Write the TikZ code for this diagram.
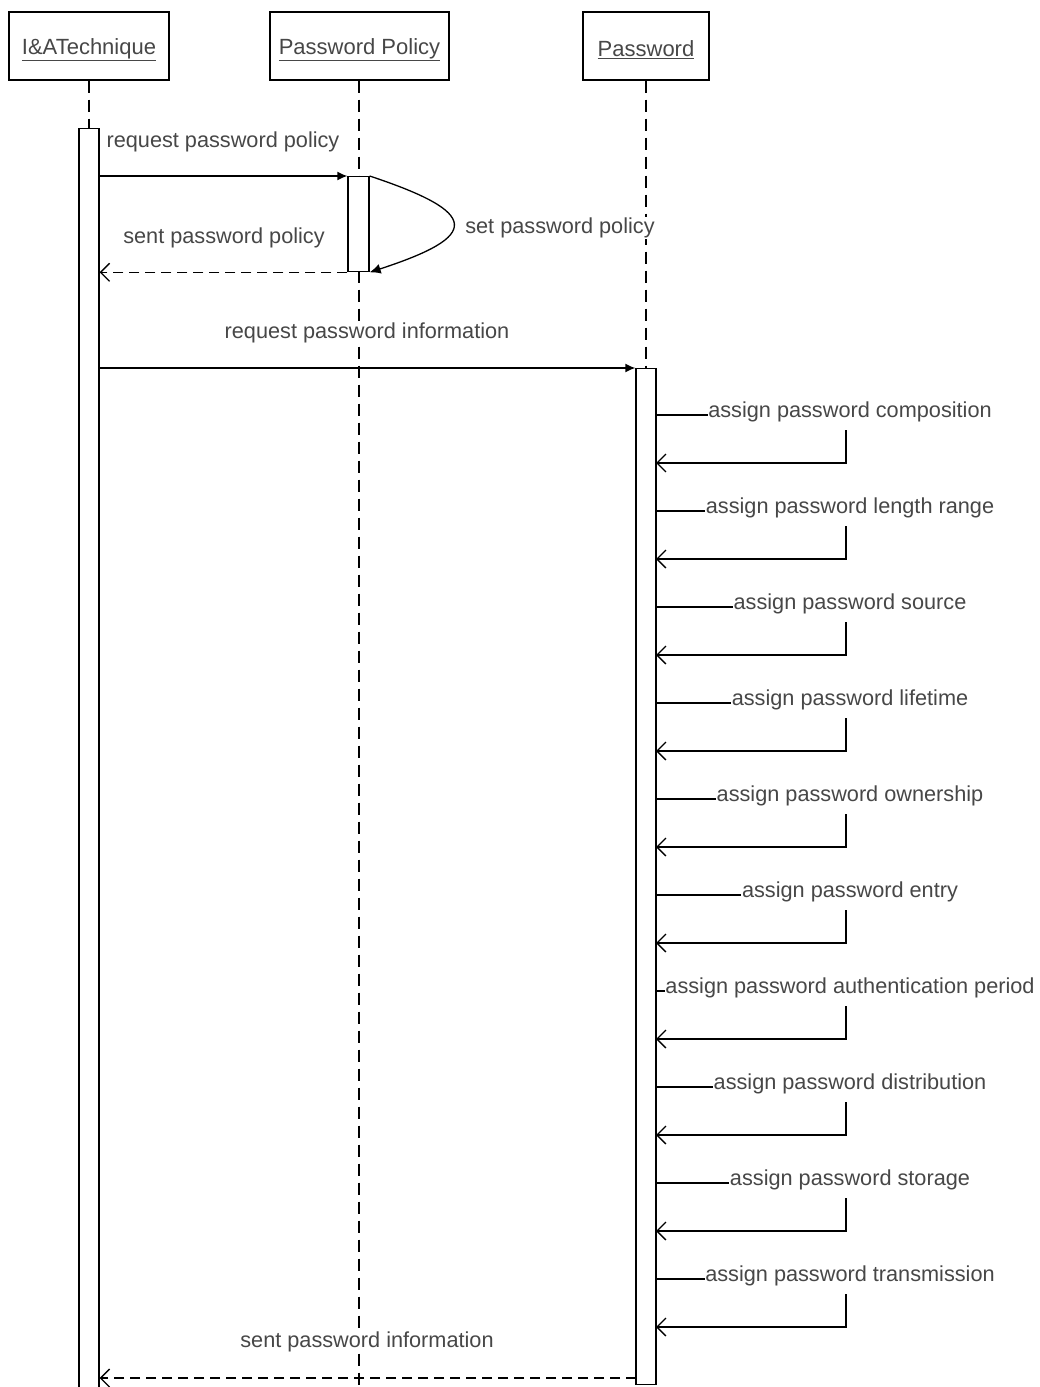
\documentclass[tikz,border=0pt]{standalone}
\usepackage{fontspec}
\setmainfont{Liberation Sans}
\usetikzlibrary{arrows.meta}
\begin{document}
\begin{tikzpicture}[x=1pt,y=-1pt,
  lbl/.style={font=\fontsize{21.7}{24}\selectfont, text=black!72, fill=white, inner sep=0.5pt},
  head/.style={draw, line width=1.3pt, minimum height=68pt, inner sep=0pt},
  headtext/.style={font=\fontsize{22}{24}\selectfont, text=black!72, inner sep=0pt},
  life/.style={line width=1.2pt, dash pattern=on 12pt off 7pt},
  act/.style={draw, fill=white, line width=1.3pt, minimum width=20pt, inner sep=0pt, anchor=north},
  call/.style={line width=1.3pt, -{Latex[length=10pt,width=9pt]}},
  reply/.style={line width=1.3pt, dash pattern=on 10pt off 6pt, -{Straight Barb[length=9pt,width=18pt]}},
  selfret/.style={line width=1.3pt, -{Straight Barb[length=9pt,width=18pt]}}
]
\clip (0,0) rectangle (1039,1387);

% object heads
\node[head, minimum width=160pt] (tech) at (89,46) {};
\node[head, minimum width=179pt] (policy) at (359.5,46) {};
\node[head, minimum width=126pt] (pwd) at (646,46) {};
\node[headtext] (tech-t) at (89,50) {\underline{I\&ATechnique}};
\node[headtext] (policy-t) at (359.5,50) {\underline{Password Policy}};
\node[headtext] (pwd-t) at (646,50) {\underline{Password}};

% lifelines
\draw[life] (tech.south) -- (89,128);
\draw[life] (policy.south -| 359,0) -- (359,1400);
\draw[life] (pwd.south) -- (646,368);

% activation bars
\node[act, minimum height=1290pt] (a1) at (89,128) {};
\node[act, minimum height=95pt, minimum width=21pt] (a2) at (358.5,176) {};
\node[act, minimum height=1016pt] (a3) at (646,368) {};

% policy exchange
\draw[call] (a1.east |- a2.north) -- (a2.north west);
\node[lbl] (l1) at (223,142) {request password policy};
\draw[line width=1.3pt, -{Latex[length=11pt,width=10pt]}]
  (a2.north east) .. controls (481,213) and (481,236) .. (a2.south east);
\node[lbl] (l2) at (560,228) {set password policy};
\draw[reply] (a2.south west) -- (a1.east |- a2.south);
\node[lbl] (l3) at (224,238) {sent password policy};

% password request
\draw[call] (a1.east |- a3.north) -- (a3.north west);
\node[lbl] (l4) at (367,333) {request password information};

% self messages on the password object
\foreach \t [count=\i from 0] in {composition, length range, source, lifetime,
    ownership, entry, authentication period, distribution, storage, transmission} {
  \pgfmathsetmacro\ya{415+96*\i}
  \node[lbl] (m\i) at (850,\ya-3.5) {assign password \t};
  \coordinate (s\i) at (656,\ya);
  \coordinate (v\i) at (846,\ya+15);
  \coordinate (e\i) at (656,\ya+48);
  \draw[line width=1.3pt] (s\i) -- (m\i.west |- s\i);
  \draw[selfret] (v\i) |- (e\i);
}

% final reply
\coordinate (rin) at (636,1378);
\draw[reply] (rin) -- (a1.east |- rin);
\node[lbl] (l5) at (367,1342) {sent password information};
\end{tikzpicture}
\end{document}
